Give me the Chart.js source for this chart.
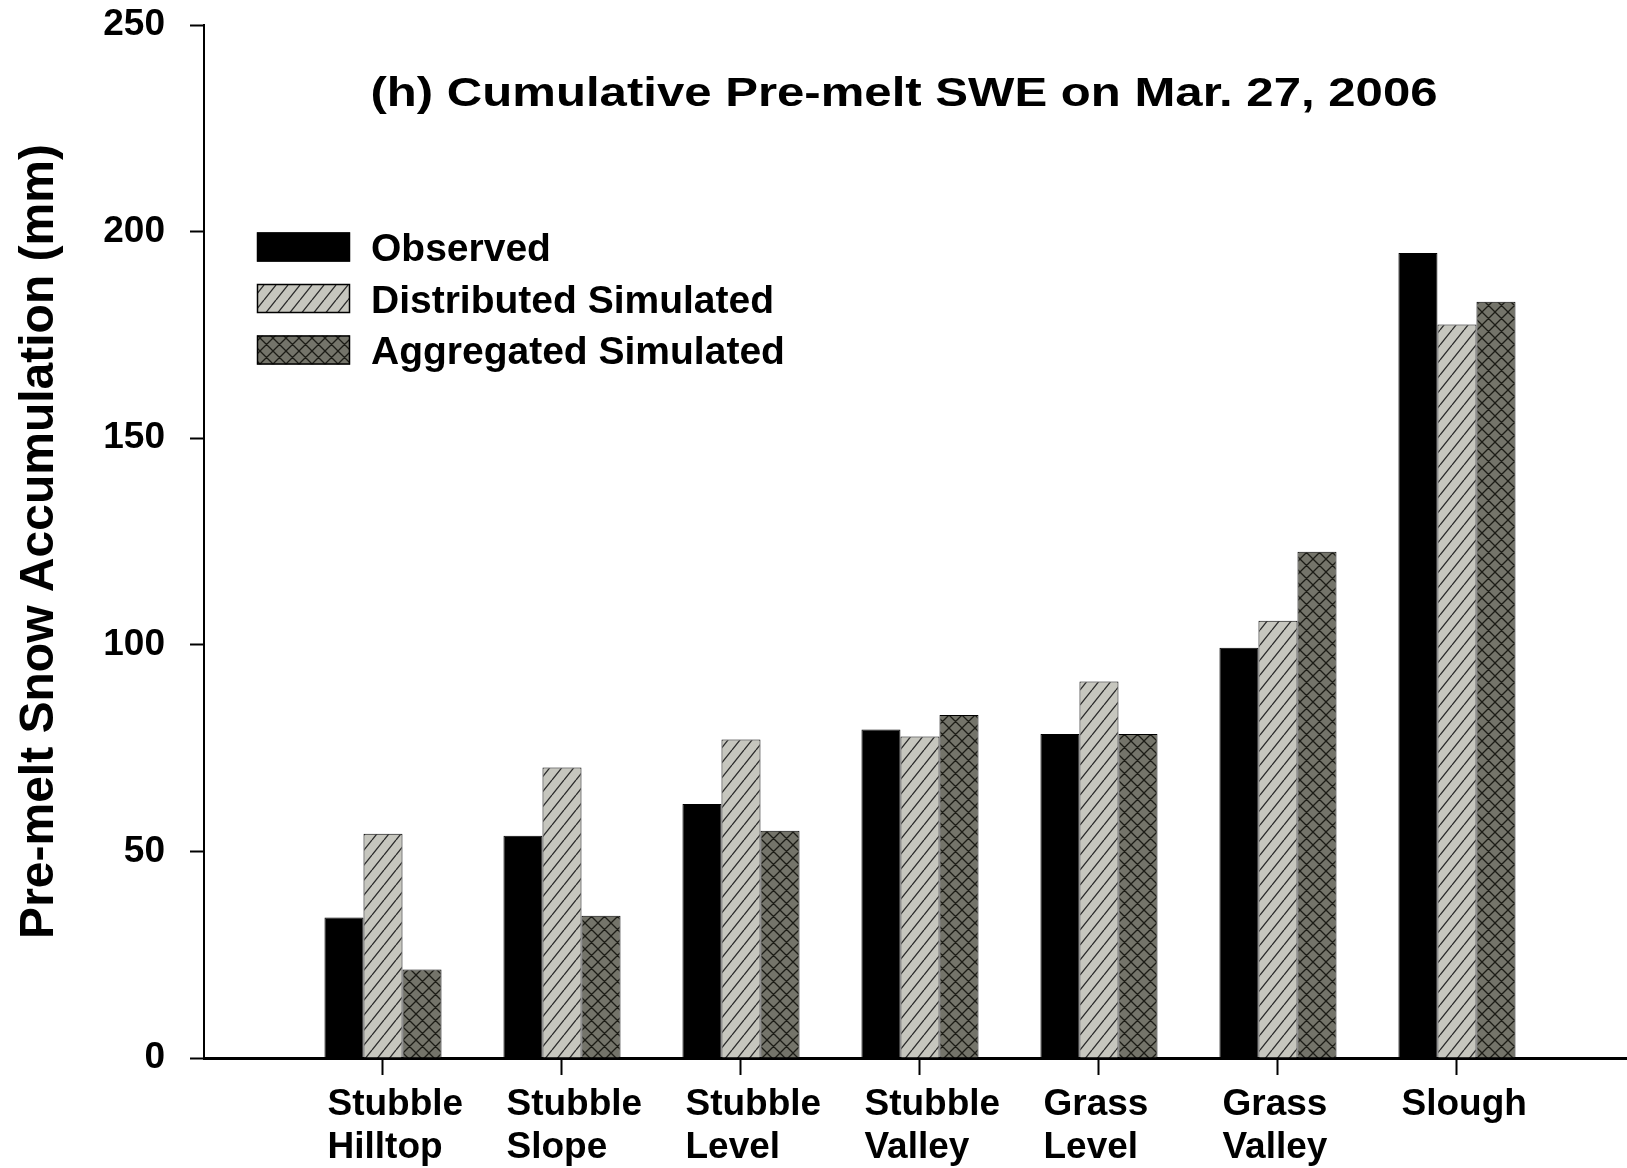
<!DOCTYPE html>
<html>
<head>
<meta charset="utf-8">
<title>Cumulative Pre-melt SWE</title>
<script src="https://cdn.jsdelivr.net/npm/chart.js@4.4.1/dist/chart.umd.min.js"></script>
<style>
  html, body { margin: 0; padding: 0; background: #ffffff; overflow: hidden; }
  canvas { display: block; }
</style>
</head>
<body>
<canvas id="swe" width="1627" height="1168"></canvas>
<script>
// ---- data -------------------------------------------------------------
const categories = [
  ['Stubble', 'Hilltop'],
  ['Stubble', 'Slope'],
  ['Stubble', 'Level'],
  ['Stubble', 'Valley'],
  ['Grass', 'Level'],
  ['Grass', 'Valley'],
  ['Slough']
];
const seriesNames = ['Observed', 'Distributed Simulated', 'Aggregated Simulated'];
const observed    = [34.0, 53.8, 61.5, 79.5, 78.4, 99.3, 194.8];
const distributed = [54.3, 70.3, 77.1, 77.8, 91.1, 105.8, 177.5];
const aggregated  = [21.4, 34.4, 55.0, 83.0, 78.4, 122.5, 183.0];
const yTicks = [0, 50, 100, 150, 200, 250];
const chartTitle = '(h) Cumulative Pre-melt SWE on Mar. 27, 2006';
const yTitle = 'Pre-melt Snow Accumulation (mm)';

// ---- styling helpers --------------------------------------------------
const FAMILY = '"Liberation Sans", Arial, Helvetica, sans-serif';

// Repeating fill tile: single diagonal hatch, or cross-hatch when cross = true
function hatchPattern(fill, stroke, w, h, cross) {
  const c = document.createElement('canvas');
  c.width = w; c.height = h;
  const g = c.getContext('2d');
  g.fillStyle = fill;
  g.fillRect(0, 0, w, h);
  g.strokeStyle = stroke;
  g.lineWidth = 1.3;
  g.beginPath();
  for (let k = -1; k <= 1; k++) {
    g.moveTo(k * w, h);
    g.lineTo(k * w + w, 0);
    if (cross) {
      g.moveTo(k * w, 0);
      g.lineTo(k * w + w, h);
    }
  }
  g.stroke();
  return g.createPattern(c, 'repeat');
}

const fills = [
  '#000000',
  hatchPattern('#c6c6be', '#2b2b2b', 12, 15, false),
  hatchPattern('#74746a', '#1c1c16', 13, 13, true)
];

const seriesValues = [observed, distributed, aggregated];
const toPoints = arr => arr.map((v, i) => ({ x: i + 1, y: v }));

// ---- custom drawing: panel title and in-plot legend --------------------
const panelTitle = {
  id: 'panelTitle',
  afterDraw(chart) {
    const { ctx, chartArea } = chart;
    ctx.save();
    ctx.font = 'bold 41px ' + FAMILY;
    const w = ctx.measureText(chartTitle).width;
    const targetWidth = 1067;
    ctx.translate(chartArea.left + 700, chartArea.top + 81);
    ctx.scale(targetWidth / w, 1);
    ctx.fillStyle = '#000';
    ctx.textAlign = 'center';
    ctx.textBaseline = 'alphabetic';
    ctx.fillText(chartTitle, 0, 0);
    ctx.restore();
  }
};

const plotLegend = {
  id: 'plotLegend',
  afterDraw(chart) {
    const { ctx, chartArea } = chart;
    const boxX = chartArea.left + 53, boxW = 93, boxH = 29;
    const firstMid = chartArea.top + 222, pitch = 51.5;
    ctx.save();
    ctx.font = 'bold 39px ' + FAMILY;
    ctx.textAlign = 'left';
    ctx.textBaseline = 'alphabetic';
    chart.data.datasets.forEach((ds, i) => {
      const mid = firstMid + i * pitch;
      const top = mid - boxH / 2;
      ctx.fillStyle = ds.backgroundColor;
      ctx.fillRect(boxX, top, boxW, boxH);
      ctx.strokeStyle = '#000';
      ctx.lineWidth = 1.5;
      ctx.strokeRect(boxX + 0.5, top + 0.5, boxW - 1, boxH - 1);
      ctx.fillStyle = '#000';
      ctx.fillText(ds.label, boxX + 114, mid + 14);
    });
    ctx.restore();
  }
};

// ---- chart -----------------------------------------------------------
const xMax = 7.95;
const labelShift = 0.31;

new Chart(document.getElementById('swe'), {
  type: 'bar',
  data: {
    datasets: seriesNames.map((name, s) => ({
      label: name,
      data: toPoints(seriesValues[s]),
      backgroundColor: fills[s],
      borderColor: '#000',
      borderWidth: 1,
      borderSkipped: 'start',
      categoryPercentage: 0.654,
      barPercentage: 1.0,
      xAxisID: 'x',
      yAxisID: 'y'
    }))
  },
  options: {
    responsive: false,
    animation: false,
    devicePixelRatio: 1,
    layout: { padding: { top: 25, left: 0, right: 0, bottom: 0 } },
    plugins: {
      legend: { display: false },
      tooltip: { enabled: false },
      title: { display: false }
    },
    scales: {
      x: {
        type: 'linear',
        position: 'bottom',
        offset: false,
        min: 0,
        max: xMax,
        weight: 0,
        afterBuildTicks: s => { s.ticks = categories.map((c, i) => ({ value: i + 1 })); },
        afterFit: s => { s.height = 17; },
        ticks: { display: false },
        grid: {
          display: true,
          offset: false,
          drawOnChartArea: false,
          drawTicks: true,
          tickLength: 17,
          tickColor: '#000',
          tickWidth: 2
        },
        border: { display: true, color: '#000', width: 3 }
      },
      xl: {
        type: 'linear',
        position: 'bottom',
        offset: false,
        min: 0,
        max: xMax,
        weight: 1,
        afterBuildTicks: s => { s.ticks = categories.map((c, i) => ({ value: i + 1 - labelShift })); },
        afterFit: s => { s.height = 93; },
        ticks: {
          align: 'start',
          padding: 8,
          autoSkip: false,
          maxRotation: 0,
          minRotation: 0,
          color: '#000',
          font: { family: FAMILY, weight: 'bold', size: 37, lineHeight: 1.16 },
          callback: (v, i) => categories[i]
        },
        grid: { display: false, offset: false, drawTicks: false },
        border: { display: false }
      },
      y: {
        type: 'linear',
        position: 'left',
        min: 0,
        max: 250,
        afterBuildTicks: s => { s.ticks = yTicks.map(v => ({ value: v })); },
        afterFit: s => {
          s.width = 204;
          s.paddingTop = 0;
          s.paddingBottom = 0;
        },
        ticks: {
          padding: 25,
          color: '#000',
          font: { family: FAMILY, weight: 'bold', size: 37 }
        },
        grid: {
          display: true,
          drawOnChartArea: false,
          drawTicks: true,
          tickLength: 14,
          tickColor: '#000',
          tickWidth: 2
        },
        border: { display: true, color: '#000', width: 2 },
        title: {
          display: true,
          text: yTitle,
          color: '#000',
          font: { family: FAMILY, weight: 'bold', size: 48 },
          padding: { top: 11, bottom: 0 }
        }
      }
    }
  },
  plugins: [panelTitle, plotLegend]
});
</script>
</body>
</html>
